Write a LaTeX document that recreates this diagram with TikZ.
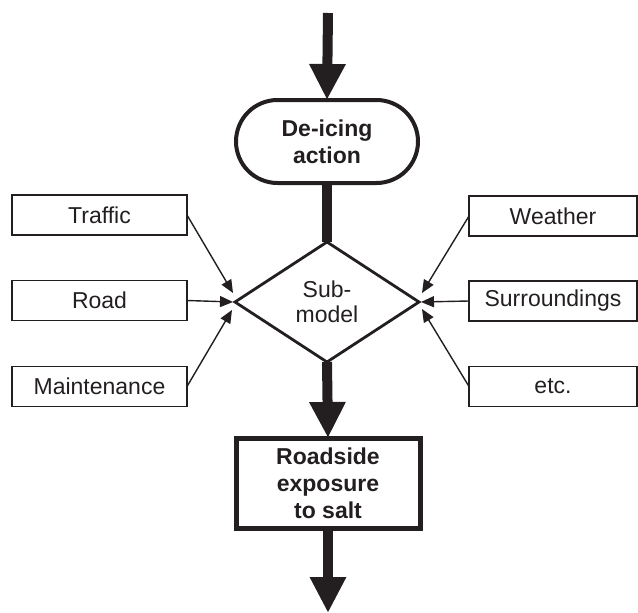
\documentclass[tikz,border=0pt]{standalone}
\usepackage{fontspec}
\setmainfont{Liberation Sans}
\usetikzlibrary{arrows.meta,shapes.geometric,shapes.misc,calc}
\definecolor{ink}{HTML}{231F20}
\begin{document}
\begin{tikzpicture}[x=1pt,y=-1pt,
  every node/.style={text=ink,inner sep=0pt,outer sep=0pt},
  txt/.style={font=\fontsize{23}{26}\selectfont},
  bld/.style={font=\fontsize{23}{27}\selectfont\bfseries,align=center},
  sidebox/.style={draw=ink,line width=1.3pt,rectangle,txt},
  thick shaft/.style={draw=ink,line width=10pt},
  bigarrow/.style={thick shaft,-{Triangle[length=36pt,width=34pt]},fill=ink},
  smallarrow/.style={draw=ink,line width=1.4pt,-{Triangle[length=13pt,width=11pt]},fill=ink}
]
\useasboundingbox (0,0) rectangle (638,613);
\coordinate (top) at (328,13);
\coordinate (bottom) at (328,613);
\node[draw=ink,line width=4pt,rounded rectangle,minimum width=182pt,minimum height=83pt,bld] (deice) at (327,141.5) {De-icing\\action};
\node[draw=ink,line width=2.8pt,diamond,minimum width=184pt,minimum height=120pt,txt,align=center,font=\fontsize{23}{25}\selectfont] (sub) at (327,302) {Sub-\\model};
\node[draw=ink,line width=5pt,rectangle,minimum width=184pt,minimum height=90pt,bld] (road2) at (328,483) {Roadside\\exposure\\to salt};

\node[sidebox,minimum width=175pt,minimum height=40pt] (traffic) at (99.5,215) {Traffic};
\node[sidebox,minimum width=175pt,minimum height=40pt] (road) at (99.5,300.5) {Road};
\node[sidebox,minimum width=175pt,minimum height=40pt] (maint) at (99.5,386.5) {Maintenance};
\node[sidebox,minimum width=168pt,minimum height=40pt] (weather) at (553,216) {Weather};
\node[sidebox,minimum width=168pt,minimum height=40pt] (surr) at (553,301) {Surroundings};
\node[sidebox,minimum width=168pt,minimum height=40pt] (etc) at (553,386.5) {etc.};

\draw[bigarrow] (top) -- (deice.north);
\draw[thick shaft] (deice.south) -- (sub.north);
\draw[bigarrow] (sub.south) -- (road2.north);
\draw[bigarrow] (road2.south) -- (bottom);

\coordinate (lt) at ($(sub.west)+(-2,-9)$);
\coordinate (lm) at ($(sub.west)+(-2,0)$);
\coordinate (lb) at ($(sub.west)+(-3,8)$);
\coordinate (rt) at ($(sub.east)+(3,-9)$);
\coordinate (rm) at ($(sub.east)+(2,0)$);
\coordinate (rb) at ($(sub.east)+(3,7)$);
\draw[smallarrow] (traffic.east) -- (lt);
\draw[smallarrow] (road.east) -- (lm);
\draw[smallarrow] (maint.east) -- (lb);
\draw[smallarrow] (weather.west) -- (rt);
\draw[smallarrow] (surr.west) -- (rm);
\draw[smallarrow] (etc.west) -- (rb);
\end{tikzpicture}
\end{document}
